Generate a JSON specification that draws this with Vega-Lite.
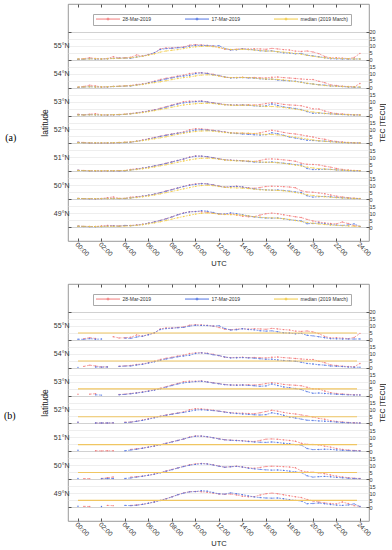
{
"$schema": "https://vega.github.io/schema/vega-lite/v6.json",
"padding": {"left": 3, "top": 3, "right": 0, "bottom": 0},
"spacing": 43,
"bounds": "flush",
"config": {
 "font": "Liberation Sans",
 "view": {"stroke": "#808080", "strokeWidth": 0.8},
 "axis": {"labelColor": "#333333", "titleColor": "#222222", "tickColor": "#555555", "titleFontWeight": "normal", "domain": false, "grid": false}
},
"datasets": {
"medb": [
{"la":55,"v":4.8,"t0":0,"t1":23.75},{"la":54,"v":4.8,"t0":0,"t1":23.75},{"la":53,"v":4.8,"t0":0,"t1":23.75},{"la":52,"v":4.8,"t0":0,"t1":23.75},{"la":51,"v":4.8,"t0":0,"t1":23.75},{"la":50,"v":4.8,"t0":0,"t1":23.75},{"la":49,"v":4.8,"t0":0,"t1":23.75}
],
"tec": [
{"la":55,"t":0,"r":0.4,"b":0.4,"m":0.5,"xr":1},{"la":55,"t":0.5,"r":0.8,"b":0.3,"m":0.5},{"la":55,"t":1,"r":1.5,"b":0.8,"m":0.6},{"la":55,"t":1.5,"r":0.9,"b":0.4,"m":0.7},{"la":55,"t":2,"r":0.6,"b":0.5,"m":0.6,"xr":1},{"la":55,"t":2.5,"r":0.9,"b":0.7,"m":0.7,"xr":1,"xb":1},{"la":55,"t":3,"r":2.2,"b":1.0,"m":0.9,"xb":1},{"la":55,"t":3.5,"r":1.3,"b":1.1,"m":1.0,"xb":1},{"la":55,"t":4,"r":1.4,"b":1.2,"m":1.2},{"la":55,"t":4.5,"r":1.8,"b":1.0,"m":1.5},{"la":55,"t":5,"r":3.5,"b":2.0,"m":1.9},{"la":55,"t":5.5,"r":2.6,"b":2.6,"m":2.5},{"la":55,"t":6,"r":3.8,"b":3.6,"m":3.3},{"la":55,"t":6.5,"r":4.8,"b":5.0,"m":4.2},{"la":55,"t":7,"r":7.8,"b":7.4,"m":5.5},{"la":55,"t":7.5,"r":8.5,"b":8.0,"m":6.3},{"la":55,"t":8,"r":8.4,"b":8.3,"m":6.8},{"la":55,"t":8.5,"r":8.9,"b":8.6,"m":7.3},{"la":55,"t":9,"r":9.2,"b":8.9,"m":8.0},{"la":55,"t":9.5,"r":10.5,"b":9.8,"m":8.8},{"la":55,"t":10,"r":10.8,"b":10.4,"m":9.3},{"la":55,"t":10.5,"r":10.6,"b":10.3,"m":9.6},{"la":55,"t":11,"r":10.3,"b":10.2,"m":9.7},{"la":55,"t":11.5,"r":9.9,"b":9.8,"m":9.4},{"la":55,"t":12,"r":8.8,"b":10.1,"m":8.8},{"la":55,"t":12.5,"r":7.6,"b":8.1,"m":8.0},{"la":55,"t":13,"r":7.2,"b":7.0,"m":7.4},{"la":55,"t":13.5,"r":7.6,"b":7.2,"m":7.3},{"la":55,"t":14,"r":8.0,"b":7.9,"m":7.5},{"la":55,"t":14.5,"r":7.6,"b":7.4,"m":7.3},{"la":55,"t":15,"r":7.9,"b":7.1,"m":7.0},{"la":55,"t":15.5,"r":7.8,"b":6.5,"m":6.6},{"la":55,"t":16,"r":7.5,"b":6.2,"m":6.3},{"la":55,"t":16.5,"r":8.2,"b":6.4,"m":6.2},{"la":55,"t":17,"r":7.8,"b":5.7,"m":5.8},{"la":55,"t":17.5,"r":7.3,"b":5.0,"m":5.5},{"la":55,"t":18,"r":7.0,"b":4.8,"m":5.0},{"la":55,"t":18.5,"r":6.2,"b":4.3,"m":4.6},{"la":55,"t":19,"r":6.0,"b":4.6,"m":4.0},{"la":55,"t":19.5,"r":6.3,"b":3.2,"m":3.2},{"la":55,"t":20,"r":5.6,"b":2.8,"m":2.5},{"la":55,"t":20.5,"r":4.4,"b":2.2,"m":1.9},{"la":55,"t":21,"r":2.4,"b":1.5,"m":1.4},{"la":55,"t":21.5,"r":1.3,"b":0.8,"m":1.1},{"la":55,"t":22,"r":1.4,"b":0.7,"m":1.0},{"la":55,"t":22.5,"r":1.2,"b":0.6,"m":0.8},{"la":55,"t":23,"r":0.8,"b":0.5,"m":0.7},{"la":55,"t":23.5,"r":1.6,"b":0.5,"m":0.6},{"la":55,"t":24,"r":4.6,"b":0.6,"m":0.6},
{"la":54,"t":0,"r":0.3,"b":0.2,"m":0.4,"xr":1},{"la":54,"t":0.5,"r":0.9,"b":0.4,"m":0.5,"xb":1},{"la":54,"t":1,"r":1.8,"b":0.7,"m":0.6,"xb":1},{"la":54,"t":1.5,"r":1.2,"b":0.5,"m":0.5},{"la":54,"t":2,"r":0.5,"b":0.4,"m":0.5},{"la":54,"t":2.5,"r":0.6,"b":0.5,"m":0.6},{"la":54,"t":3,"r":0.9,"b":0.8,"m":0.8,"xr":1,"xb":1},{"la":54,"t":3.5,"r":1.0,"b":0.9,"m":1.0},{"la":54,"t":4,"r":1.3,"b":1.1,"m":1.2},{"la":54,"t":4.5,"r":1.6,"b":1.2,"m":1.4},{"la":54,"t":5,"r":2.3,"b":1.9,"m":1.8},{"la":54,"t":5.5,"r":2.6,"b":2.4,"m":2.3},{"la":54,"t":6,"r":3.6,"b":3.3,"m":3.0},{"la":54,"t":6.5,"r":4.6,"b":4.2,"m":3.6},{"la":54,"t":7,"r":5.9,"b":5.2,"m":4.2},{"la":54,"t":7.5,"r":6.7,"b":6.2,"m":5.0},{"la":54,"t":8,"r":7.5,"b":7.0,"m":5.8},{"la":54,"t":8.5,"r":8.3,"b":7.8,"m":6.6},{"la":54,"t":9,"r":9.0,"b":8.4,"m":7.2},{"la":54,"t":9.5,"r":10.1,"b":8.9,"m":7.7},{"la":54,"t":10,"r":10.6,"b":10.2,"m":8.4},{"la":54,"t":10.5,"r":10.7,"b":10.6,"m":9.0},{"la":54,"t":11,"r":10.3,"b":10.1,"m":9.2},{"la":54,"t":11.5,"r":9.6,"b":9.2,"m":9.0},{"la":54,"t":12,"r":8.6,"b":8.7,"m":8.3},{"la":54,"t":12.5,"r":7.5,"b":7.6,"m":7.5},{"la":54,"t":13,"r":7.2,"b":7.0,"m":7.2},{"la":54,"t":13.5,"r":7.3,"b":7.1,"m":7.2},{"la":54,"t":14,"r":7.4,"b":7.2,"m":7.3},{"la":54,"t":14.5,"r":7.2,"b":7.0,"m":7.2},{"la":54,"t":15,"r":7.3,"b":6.8,"m":6.9},{"la":54,"t":15.5,"r":7.1,"b":6.4,"m":6.5},{"la":54,"t":16,"r":7.0,"b":6.0,"m":6.2},{"la":54,"t":16.5,"r":7.4,"b":6.1,"m":6.1},{"la":54,"t":17,"r":7.6,"b":5.5,"m":5.9},{"la":54,"t":17.5,"r":7.2,"b":5.1,"m":5.5},{"la":54,"t":18,"r":6.9,"b":4.9,"m":5.0},{"la":54,"t":18.5,"r":6.6,"b":4.6,"m":4.4},{"la":54,"t":19,"r":6.2,"b":3.9,"m":3.8},{"la":54,"t":19.5,"r":5.9,"b":3.0,"m":3.2},{"la":54,"t":20,"r":5.8,"b":2.6,"m":2.6},{"la":54,"t":20.5,"r":4.6,"b":2.1,"m":2.0},{"la":54,"t":21,"r":3.6,"b":1.8,"m":1.5},{"la":54,"t":21.5,"r":2.0,"b":1.2,"m":1.2},{"la":54,"t":22,"r":1.5,"b":1.0,"m":1.0},{"la":54,"t":22.5,"r":1.0,"b":0.8,"m":0.8},{"la":54,"t":23,"r":0.8,"b":0.5,"m":0.6},{"la":54,"t":23.5,"r":0.6,"b":0.3,"m":0.5},{"la":54,"t":24,"r":3.0,"b":0.3,"m":0.5},
{"la":53,"t":0,"r":0.9,"b":0.6,"m":0.4,"xb":1},{"la":53,"t":0.5,"r":0.5,"b":0.4,"m":0.4,"xr":1,"xb":1},{"la":53,"t":1,"r":1.0,"b":0.6,"m":0.5,"xb":1},{"la":53,"t":1.5,"r":1.3,"b":0.5,"m":0.5},{"la":53,"t":2,"r":0.5,"b":0.3,"m":0.4,"xr":1},{"la":53,"t":2.5,"r":0.4,"b":0.4,"m":0.5,"xr":1,"xb":1},{"la":53,"t":3,"r":0.6,"b":0.5,"m":0.6,"xr":1,"xb":1},{"la":53,"t":3.5,"r":0.7,"b":0.6,"m":0.7},{"la":53,"t":4,"r":1.0,"b":0.8,"m":0.9},{"la":53,"t":4.5,"r":1.5,"b":1.3,"m":1.2},{"la":53,"t":5,"r":2.0,"b":1.8,"m":1.6},{"la":53,"t":5.5,"r":2.6,"b":2.4,"m":2.1},{"la":53,"t":6,"r":3.3,"b":3.1,"m":2.8},{"la":53,"t":6.5,"r":4.1,"b":3.9,"m":3.5},{"la":53,"t":7,"r":5.2,"b":4.8,"m":4.3},{"la":53,"t":7.5,"r":6.4,"b":6.0,"m":5.1},{"la":53,"t":8,"r":7.6,"b":7.2,"m":6.0},{"la":53,"t":8.5,"r":8.7,"b":8.3,"m":6.8},{"la":53,"t":9,"r":10.0,"b":9.1,"m":7.6},{"la":53,"t":9.5,"r":10.3,"b":9.6,"m":8.1},{"la":53,"t":10,"r":10.2,"b":10.0,"m":8.5},{"la":53,"t":10.5,"r":10.5,"b":10.3,"m":8.7},{"la":53,"t":11,"r":9.8,"b":9.7,"m":8.8},{"la":53,"t":11.5,"r":9.2,"b":9.0,"m":8.6},{"la":53,"t":12,"r":8.6,"b":8.4,"m":8.1},{"la":53,"t":12.5,"r":7.9,"b":7.8,"m":7.7},{"la":53,"t":13,"r":7.6,"b":7.5,"m":7.4},{"la":53,"t":13.5,"r":7.5,"b":7.4,"m":7.3},{"la":53,"t":14,"r":7.6,"b":7.5,"m":7.4},{"la":53,"t":14.5,"r":7.7,"b":7.3,"m":7.4},{"la":53,"t":15,"r":7.5,"b":7.0,"m":7.2},{"la":53,"t":15.5,"r":7.9,"b":6.6,"m":6.8},{"la":53,"t":16,"r":8.6,"b":6.9,"m":6.5},{"la":53,"t":16.5,"r":9.2,"b":8.3,"m":6.5},{"la":53,"t":17,"r":8.7,"b":7.2,"m":6.2},{"la":53,"t":17.5,"r":8.0,"b":6.2,"m":5.8},{"la":53,"t":18,"r":7.6,"b":5.6,"m":5.2},{"la":53,"t":18.5,"r":7.4,"b":5.0,"m":4.6},{"la":53,"t":19,"r":7.0,"b":4.3,"m":4.0},{"la":53,"t":19.5,"r":5.9,"b":2.8,"m":3.2},{"la":53,"t":20,"r":4.8,"b":1.6,"m":2.5},{"la":53,"t":20.5,"r":4.7,"b":1.8,"m":2.0},{"la":53,"t":21,"r":3.2,"b":1.5,"m":1.5},{"la":53,"t":21.5,"r":2.1,"b":1.2,"m":1.2},{"la":53,"t":22,"r":1.4,"b":0.9,"m":1.0},{"la":53,"t":22.5,"r":1.1,"b":0.7,"m":0.8},{"la":53,"t":23,"r":0.8,"b":0.5,"m":0.6},{"la":53,"t":23.5,"r":0.6,"b":0.4,"m":0.5},{"la":53,"t":24,"r":0.5,"b":0.4,"m":0.4},
{"la":52,"t":0,"r":0.8,"b":0.8,"m":0.5},{"la":52,"t":0.5,"r":0.7,"b":0.4,"m":0.4,"xr":1,"xb":1},{"la":52,"t":1,"r":0.3,"b":0.3,"m":0.4,"xr":1,"xb":1},{"la":52,"t":1.5,"r":0.3,"b":0.3,"m":0.4},{"la":52,"t":2,"r":0.3,"b":0.3,"m":0.4},{"la":52,"t":2.5,"r":0.3,"b":0.3,"m":0.4},{"la":52,"t":3,"r":0.4,"b":0.4,"m":0.5},{"la":52,"t":3.5,"r":0.6,"b":0.5,"m":0.6,"xr":1,"xb":1},{"la":52,"t":4,"r":0.8,"b":0.6,"m":0.8},{"la":52,"t":4.5,"r":1.0,"b":0.9,"m":1.1},{"la":52,"t":5,"r":1.6,"b":1.5,"m":1.5},{"la":52,"t":5.5,"r":2.4,"b":2.2,"m":2.0},{"la":52,"t":6,"r":3.4,"b":3.1,"m":2.6},{"la":52,"t":6.5,"r":4.3,"b":4.0,"m":3.3},{"la":52,"t":7,"r":5.2,"b":5.0,"m":4.0},{"la":52,"t":7.5,"r":6.0,"b":5.8,"m":4.8},{"la":52,"t":8,"r":6.8,"b":6.6,"m":5.7},{"la":52,"t":8.5,"r":7.5,"b":7.3,"m":6.5},{"la":52,"t":9,"r":8.3,"b":7.9,"m":7.3},{"la":52,"t":9.5,"r":9.8,"b":8.7,"m":8.0},{"la":52,"t":10,"r":10.6,"b":9.6,"m":8.6},{"la":52,"t":10.5,"r":10.4,"b":9.8,"m":8.9},{"la":52,"t":11,"r":10.0,"b":9.5,"m":9.0},{"la":52,"t":11.5,"r":9.4,"b":9.2,"m":8.8},{"la":52,"t":12,"r":8.8,"b":8.8,"m":8.3},{"la":52,"t":12.5,"r":8.2,"b":8.1,"m":7.8},{"la":52,"t":13,"r":7.7,"b":7.5,"m":7.5},{"la":52,"t":13.5,"r":7.4,"b":7.1,"m":7.4},{"la":52,"t":14,"r":7.3,"b":6.8,"m":7.4},{"la":52,"t":14.5,"r":7.1,"b":6.5,"m":7.3},{"la":52,"t":15,"r":7.0,"b":6.2,"m":7.1},{"la":52,"t":15.5,"r":7.6,"b":6.0,"m":6.7},{"la":52,"t":16,"r":8.6,"b":6.3,"m":6.4},{"la":52,"t":16.5,"r":9.4,"b":7.6,"m":6.4},{"la":52,"t":17,"r":8.8,"b":6.9,"m":6.1},{"la":52,"t":17.5,"r":7.9,"b":5.8,"m":5.6},{"la":52,"t":18,"r":7.2,"b":4.6,"m":5.0},{"la":52,"t":18.5,"r":6.8,"b":3.9,"m":4.4},{"la":52,"t":19,"r":6.1,"b":3.1,"m":3.8},{"la":52,"t":19.5,"r":5.3,"b":2.3,"m":3.1},{"la":52,"t":20,"r":4.6,"b":2.1,"m":2.4},{"la":52,"t":20.5,"r":3.6,"b":1.8,"m":1.9},{"la":52,"t":21,"r":3.0,"b":1.6,"m":1.5},{"la":52,"t":21.5,"r":2.0,"b":1.3,"m":1.2},{"la":52,"t":22,"r":1.4,"b":1.0,"m":0.9},{"la":52,"t":22.5,"r":1.0,"b":0.7,"m":0.7},{"la":52,"t":23,"r":0.7,"b":0.5,"m":0.5},{"la":52,"t":23.5,"r":0.5,"b":0.4,"m":0.4},{"la":52,"t":24,"r":0.4,"b":0.3,"m":0.3},
{"la":51,"t":0,"r":0.7,"b":0.7,"m":0.6,"xr":1},{"la":51,"t":0.5,"r":0.6,"b":0.5,"m":0.5,"xr":1,"xb":1},{"la":51,"t":1,"r":0.4,"b":0.3,"m":0.4,"xr":1,"xb":1},{"la":51,"t":1.5,"r":0.4,"b":0.3,"m":0.4,"xb":1},{"la":51,"t":2,"r":0.3,"b":0.3,"m":0.4,"xb":1},{"la":51,"t":2.5,"r":0.4,"b":0.3,"m":0.4,"xb":1},{"la":51,"t":3,"r":0.4,"b":0.3,"m":0.4,"xb":1},{"la":51,"t":3.5,"r":0.4,"b":0.3,"m":0.5,"xr":1,"xb":1},{"la":51,"t":4,"r":0.5,"b":0.4,"m":0.6,"xr":1},{"la":51,"t":4.5,"r":1.4,"b":0.9,"m":0.9},{"la":51,"t":5,"r":1.8,"b":1.5,"m":1.3},{"la":51,"t":5.5,"r":2.3,"b":2.2,"m":1.8},{"la":51,"t":6,"r":3.0,"b":3.0,"m":2.4},{"la":51,"t":6.5,"r":3.8,"b":3.8,"m":3.1},{"la":51,"t":7,"r":4.8,"b":4.7,"m":3.9},{"la":51,"t":7.5,"r":5.8,"b":5.6,"m":4.7},{"la":51,"t":8,"r":6.8,"b":6.7,"m":5.6},{"la":51,"t":8.5,"r":7.8,"b":7.8,"m":6.5},{"la":51,"t":9,"r":8.8,"b":8.9,"m":7.4},{"la":51,"t":9.5,"r":10.2,"b":10.0,"m":8.2},{"la":51,"t":10,"r":11.0,"b":10.8,"m":8.9},{"la":51,"t":10.5,"r":10.9,"b":10.9,"m":9.3},{"la":51,"t":11,"r":10.4,"b":10.5,"m":9.4},{"la":51,"t":11.5,"r":9.8,"b":9.7,"m":9.2},{"la":51,"t":12,"r":9.0,"b":8.9,"m":8.7},{"la":51,"t":12.5,"r":8.3,"b":8.2,"m":8.1},{"la":51,"t":13,"r":8.0,"b":7.9,"m":7.7},{"la":51,"t":13.5,"r":7.8,"b":7.7,"m":7.5},{"la":51,"t":14,"r":7.6,"b":7.5,"m":7.5},{"la":51,"t":14.5,"r":7.2,"b":7.0,"m":7.3},{"la":51,"t":15,"r":7.0,"b":6.7,"m":7.0},{"la":51,"t":15.5,"r":7.8,"b":6.5,"m":6.7},{"la":51,"t":16,"r":8.7,"b":6.4,"m":6.5},{"la":51,"t":16.5,"r":8.9,"b":6.7,"m":6.4},{"la":51,"t":17,"r":8.6,"b":6.3,"m":6.1},{"la":51,"t":17.5,"r":8.2,"b":5.8,"m":5.7},{"la":51,"t":18,"r":7.8,"b":5.4,"m":5.1},{"la":51,"t":18.5,"r":7.2,"b":4.8,"m":4.5},{"la":51,"t":19,"r":5.8,"b":4.5,"m":3.8},{"la":51,"t":19.5,"r":5.0,"b":2.0,"m":3.0},{"la":51,"t":20,"r":4.9,"b":1.2,"m":2.4},{"la":51,"t":20.5,"r":4.6,"b":1.3,"m":1.9},{"la":51,"t":21,"r":3.7,"b":1.5,"m":1.6},{"la":51,"t":21.5,"r":3.0,"b":1.4,"m":1.3},{"la":51,"t":22,"r":2.0,"b":1.0,"m":1.0},{"la":51,"t":22.5,"r":1.4,"b":0.7,"m":0.8},{"la":51,"t":23,"r":0.9,"b":0.5,"m":0.6},{"la":51,"t":23.5,"r":0.6,"b":0.4,"m":0.5},{"la":51,"t":24,"r":0.5,"b":0.3,"m":0.4},
{"la":50,"t":0,"r":0.6,"b":0.5,"m":0.5,"xr":1},{"la":50,"t":0.5,"r":0.4,"b":0.4,"m":0.4,"xb":1},{"la":50,"t":1,"r":0.4,"b":0.3,"m":0.4,"xb":1},{"la":50,"t":1.5,"r":0.3,"b":0.3,"m":0.4,"xr":1,"xb":1},{"la":50,"t":2,"r":0.5,"b":0.4,"m":0.4},{"la":50,"t":2.5,"r":1.0,"b":0.5,"m":0.4},{"la":50,"t":3,"r":1.6,"b":0.5,"m":0.4},{"la":50,"t":3.5,"r":0.6,"b":0.4,"m":0.5,"xr":1,"xb":1},{"la":50,"t":4,"r":0.6,"b":0.5,"m":0.6,"xr":1},{"la":50,"t":4.5,"r":1.5,"b":0.9,"m":0.9},{"la":50,"t":5,"r":1.8,"b":1.5,"m":1.2},{"la":50,"t":5.5,"r":2.2,"b":2.1,"m":1.7},{"la":50,"t":6,"r":2.8,"b":2.8,"m":2.3},{"la":50,"t":6.5,"r":3.6,"b":3.6,"m":3.0},{"la":50,"t":7,"r":4.7,"b":4.6,"m":3.8},{"la":50,"t":7.5,"r":5.9,"b":5.7,"m":4.7},{"la":50,"t":8,"r":7.0,"b":6.8,"m":5.6},{"la":50,"t":8.5,"r":8.1,"b":8.0,"m":6.5},{"la":50,"t":9,"r":9.2,"b":9.1,"m":7.4},{"la":50,"t":9.5,"r":10.3,"b":10.0,"m":8.3},{"la":50,"t":10,"r":11.0,"b":10.6,"m":9.2},{"la":50,"t":10.5,"r":11.3,"b":11.1,"m":9.8},{"la":50,"t":11,"r":11.0,"b":10.9,"m":10.0},{"la":50,"t":11.5,"r":10.3,"b":10.2,"m":9.7},{"la":50,"t":12,"r":9.4,"b":9.3,"m":9.1},{"la":50,"t":12.5,"r":8.6,"b":8.6,"m":8.5},{"la":50,"t":13,"r":9.0,"b":8.9,"m":8.2},{"la":50,"t":13.5,"r":9.3,"b":9.2,"m":8.1},{"la":50,"t":14,"r":8.7,"b":8.7,"m":7.9},{"la":50,"t":14.5,"r":8.2,"b":7.9,"m":7.6},{"la":50,"t":15,"r":7.8,"b":7.4,"m":7.2},{"la":50,"t":15.5,"r":8.4,"b":7.0,"m":6.8},{"la":50,"t":16,"r":9.1,"b":6.7,"m":6.6},{"la":50,"t":16.5,"r":9.3,"b":6.5,"m":6.5},{"la":50,"t":17,"r":9.2,"b":6.6,"m":6.3},{"la":50,"t":17.5,"r":9.0,"b":6.3,"m":6.0},{"la":50,"t":18,"r":8.7,"b":5.8,"m":5.5},{"la":50,"t":18.5,"r":8.2,"b":5.2,"m":4.8},{"la":50,"t":19,"r":6.0,"b":4.8,"m":4.0},{"la":50,"t":19.5,"r":5.2,"b":2.4,"m":3.2},{"la":50,"t":20,"r":5.0,"b":1.5,"m":2.6},{"la":50,"t":20.5,"r":4.5,"b":1.8,"m":2.1},{"la":50,"t":21,"r":3.9,"b":2.0,"m":1.7},{"la":50,"t":21.5,"r":3.0,"b":1.7,"m":1.4},{"la":50,"t":22,"r":2.2,"b":1.3,"m":1.1},{"la":50,"t":22.5,"r":1.6,"b":1.0,"m":0.9},{"la":50,"t":23,"r":1.1,"b":0.7,"m":0.7},{"la":50,"t":23.5,"r":0.7,"b":0.5,"m":0.5},{"la":50,"t":24,"r":0.5,"b":0.4,"m":0.4},
{"la":49,"t":0,"r":0.7,"b":0.6,"m":0.6,"xr":1},{"la":49,"t":0.5,"r":0.5,"b":0.4,"m":0.5,"xb":1},{"la":49,"t":1,"r":0.4,"b":0.3,"m":0.4,"xb":1},{"la":49,"t":1.5,"r":0.4,"b":0.3,"m":0.4,"xr":1,"xb":1},{"la":49,"t":2,"r":0.8,"b":0.4,"m":0.4,"xr":1},{"la":49,"t":2.5,"r":1.2,"b":0.6,"m":0.5,"xb":1},{"la":49,"t":3,"r":1.0,"b":0.8,"m":0.5,"xb":1},{"la":49,"t":3.5,"r":0.8,"b":0.6,"m":0.6,"xr":1,"xb":1},{"la":49,"t":4,"r":1.0,"b":1.2,"m":0.7,"xr":1},{"la":49,"t":4.5,"r":1.2,"b":1.0,"m":0.9},{"la":49,"t":5,"r":1.5,"b":1.3,"m":1.2},{"la":49,"t":5.5,"r":2.0,"b":1.9,"m":1.7},{"la":49,"t":6,"r":2.8,"b":2.7,"m":2.3},{"la":49,"t":6.5,"r":3.7,"b":3.6,"m":3.0},{"la":49,"t":7,"r":4.8,"b":4.7,"m":3.8},{"la":49,"t":7.5,"r":6.0,"b":5.9,"m":4.7},{"la":49,"t":8,"r":7.4,"b":7.3,"m":5.7},{"la":49,"t":8.5,"r":8.9,"b":8.8,"m":6.7},{"la":49,"t":9,"r":10.2,"b":10.0,"m":7.6},{"la":49,"t":9.5,"r":11.0,"b":10.9,"m":8.5},{"la":49,"t":10,"r":11.2,"b":11.1,"m":9.3},{"la":49,"t":10.5,"r":11.0,"b":11.7,"m":9.9},{"la":49,"t":11,"r":10.6,"b":11.4,"m":10.1},{"la":49,"t":11.5,"r":10.0,"b":10.4,"m":9.8},{"la":49,"t":12,"r":9.4,"b":9.5,"m":9.3},{"la":49,"t":12.5,"r":9.2,"b":9.3,"m":9.0},{"la":49,"t":13,"r":9.4,"b":10.2,"m":8.9},{"la":49,"t":13.5,"r":8.7,"b":9.6,"m":8.8},{"la":49,"t":14,"r":7.8,"b":8.9,"m":8.5},{"la":49,"t":14.5,"r":7.4,"b":8.0,"m":8.0},{"la":49,"t":15,"r":7.5,"b":7.3,"m":7.4},{"la":49,"t":15.5,"r":8.6,"b":6.8,"m":7.0},{"la":49,"t":16,"r":9.6,"b":6.5,"m":6.7},{"la":49,"t":16.5,"r":10.0,"b":6.4,"m":6.6},{"la":49,"t":17,"r":9.6,"b":6.5,"m":6.4},{"la":49,"t":17.5,"r":8.8,"b":6.0,"m":6.0},{"la":49,"t":18,"r":8.1,"b":5.3,"m":5.4},{"la":49,"t":18.5,"r":7.4,"b":4.8,"m":4.7},{"la":49,"t":19,"r":6.8,"b":4.4,"m":4.0},{"la":49,"t":19.5,"r":5.5,"b":2.4,"m":3.3},{"la":49,"t":20,"r":4.4,"b":2.6,"m":2.7},{"la":49,"t":20.5,"r":3.6,"b":2.9,"m":2.2},{"la":49,"t":21,"r":3.0,"b":2.4,"m":1.8},{"la":49,"t":21.5,"r":2.5,"b":1.8,"m":1.5},{"la":49,"t":22,"r":2.3,"b":1.4,"m":1.2},{"la":49,"t":22.5,"r":3.6,"b":1.2,"m":1.0},{"la":49,"t":23,"r":2.5,"b":1.5,"m":0.8},{"la":49,"t":23.5,"r":1.0,"b":2.3,"m":0.6},{"la":49,"t":24,"r":0.5,"b":0.4,"m":0.5}
]
},
"resolve": {"legend": {"color": "independent"}},
"vconcat": [
{
 "width": 301, "height": 237,
 "title": {"text": "(a)", "orient": "left", "angle": 0, "offset": 13, "dy": 15, "font": "Liberation Serif", "fontSize": 10, "fontWeight": "normal", "align": "right", "baseline": "middle", "anchor": "middle", "color": "#000000"},
 "resolve": {"axis": {"x": "independent", "y": "independent"}},
 "layer": [
  {
   "data": {"name": "tec"},
   "transform": [{"fold": ["r", "b"], "as": ["key", "tec"]}, {"calculate": "datum.la - 0.5 + datum.tec / 20", "as": "y"}],
   "mark": {"type": "line", "strokeWidth": 0.7, "strokeDash": [2, 1.2], "point": {"filled": true, "size": 2}},
   "encoding": {
    "x": {"field": "t", "type": "quantitative", "scale": {"domain": [-0.85, 24.77], "nice": false, "zero": false},
          "axis": {"orient": "bottom", "values": [0,2,4,6,8,10,12,14,16,18,20,22,24], "labelExpr": "(datum.value < 10 ? '0' : '') + datum.value + ':00'", "labelAngle": 45, "labelFontSize": 6.5, "labelPadding": 3, "tickSize": -3, "labelOverlap": false, "labelFlush": false, "title": "UTC", "titleFontSize": 7.5, "titlePadding": 2}},
    "y": {"field": "y", "type": "quantitative", "scale": {"domain": [48, 56.5], "nice": false, "zero": false},
          "axis": {"orient": "left", "values": [48.5,48.75,49,49.25,49.5,49.75,50,50.25,50.5,50.75,51,51.25,51.5,51.75,52,52.25,52.5,52.75,53,53.25,53.5,53.75,54,54.25,54.5,54.75,55,55.25,55.5], "grid": true, "gridColor": {"condition": {"test": "datum.value % 1 == 0.5", "value": "#bdbdbd"}, "value": "#e6e6e6"}, "gridWidth": 0.7, "tickSize": -3, "tickOpacity": {"condition": {"test": "datum.value % 1 == 0.5", "value": 1}, "value": 0}, "labelExpr": "datum.value % 1 == 0 ? datum.value + '°N' : ''", "labelFontSize": 7, "labelPadding": 2, "labelOverlap": false, "title": "latitude", "titleFontSize": 8.5, "titlePadding": 4}},
    "color": {"field": "key", "type": "nominal", "scale": {"domain": ["r", "b", "m"], "range": ["#f27c7c", "#5276e4", "#f2cb44"]},
          "legend": {"orient": "none", "legendX": 25, "legendY": 10, "direction": "horizontal", "columns": 3, "title": null, "symbolType": "M-1,0H11M5,-0.7V0.7M4.3,0H5.7", "symbolSize": 16, "symbolStrokeWidth": 1, "labelFontSize": 5, "labelOffset": 22, "labelColor": "#333333", "columnPadding": 31, "padding": 2.5, "strokeColor": "#aaaaaa", "fillColor": "#ffffff", "labelExpr": "datum.label == 'r' ? '28-Mar-2019' : datum.label == 'b' ? '17-Mar-2019' : 'median (2019 March)'"}},
    "detail": {"field": "la"}
   }
  },
  {
   "data": {"name": "tec"},
   "transform": [{"fold": ["m"], "as": ["key", "tec"]}, {"calculate": "datum.la - 0.5 + datum.tec / 20", "as": "y"}],
   "mark": {"type": "line", "strokeWidth": 0.7, "strokeDash": [2, 1.2], "point": {"filled": true, "size": 2}},
   "encoding": {
    "x": {"field": "t", "type": "quantitative", "axis": {"orient": "top", "values": [0,2,4,6,8,10,12,14,16,18,20,22,24], "labels": false, "tickSize": -3, "title": null}},
    "y": {"field": "y", "type": "quantitative", "axis": {"orient": "right", "values": [48.5,48.75,49,49.25,49.5,49.75,50,50.25,50.5,50.75,51,51.25,51.5,51.75,52,52.25,52.5,52.75,53,53.25,53.5,53.75,54,54.25,54.5,54.75,55,55.25,55.5], "tickSize": -3, "tickOpacity": {"condition": {"test": "datum.value % 1 == 0.5", "value": 1}, "value": 0}, "labelExpr": "datum.value == 55.5 ? '20' : '' + (((datum.value - 48.5) % 1) * 20)", "labelFontSize": 5.5, "labelPadding": 3, "labelOverlap": false, "title": "TEC [TECU]", "titleFontSize": 7, "titleAngle": 270, "titleBaseline": "top", "titlePadding": 3}},
    "color": {"field": "key", "type": "nominal", "legend": null},
    "detail": {"field": "la"}
   }
  }
 ]
},
{
 "width": 301, "height": 237,
 "title": {"text": "(b)", "orient": "left", "angle": 0, "offset": 13, "dy": 13, "font": "Liberation Serif", "fontSize": 10, "fontWeight": "normal", "align": "right", "baseline": "middle", "anchor": "middle", "color": "#000000"},
 "resolve": {"axis": {"x": "independent", "y": "independent"}},
 "layer": [
  {
   "data": {"name": "tec"},
   "transform": [{"fold": ["r", "b"], "as": ["key", "tec"]}, {"calculate": "(datum.key == 'r' && datum.xr) || (datum.key == 'b' && datum.xb) ? null : datum.la - 0.5 + datum.tec / 20", "as": "y"}],
   "mark": {"type": "line", "strokeWidth": 0.7, "strokeDash": [2, 1.2], "point": {"filled": true, "size": 2}, "invalid": "break-paths-show-domains"},
   "encoding": {
    "x": {"field": "t", "type": "quantitative", "scale": {"domain": [-0.85, 24.77], "nice": false, "zero": false},
          "axis": {"orient": "bottom", "values": [0,2,4,6,8,10,12,14,16,18,20,22,24], "labelExpr": "(datum.value < 10 ? '0' : '') + datum.value + ':00'", "labelAngle": 45, "labelFontSize": 6.5, "labelPadding": 3, "tickSize": -3, "labelOverlap": false, "labelFlush": false, "title": "UTC", "titleFontSize": 7.5, "titlePadding": 2}},
    "y": {"field": "y", "type": "quantitative", "scale": {"domain": [48, 56.5], "nice": false, "zero": false},
          "axis": {"orient": "left", "values": [48.5,48.75,49,49.25,49.5,49.75,50,50.25,50.5,50.75,51,51.25,51.5,51.75,52,52.25,52.5,52.75,53,53.25,53.5,53.75,54,54.25,54.5,54.75,55,55.25,55.5], "grid": true, "gridColor": {"condition": {"test": "datum.value % 1 == 0.5", "value": "#bdbdbd"}, "value": "#e6e6e6"}, "gridWidth": 0.7, "tickSize": -3, "tickOpacity": {"condition": {"test": "datum.value % 1 == 0.5", "value": 1}, "value": 0}, "labelExpr": "datum.value % 1 == 0 ? datum.value + '°N' : ''", "labelFontSize": 7, "labelPadding": 2, "labelOverlap": false, "title": "latitude", "titleFontSize": 8.5, "titlePadding": 4}},
    "color": {"field": "key", "type": "nominal", "scale": {"domain": ["r", "b", "m"], "range": ["#f27c7c", "#5276e4", "#f0c662"]},
          "legend": {"orient": "none", "legendX": 25, "legendY": 10, "direction": "horizontal", "columns": 3, "title": null, "symbolType": "M-1,0H11M5,-0.7V0.7M4.3,0H5.7", "symbolSize": 16, "symbolStrokeWidth": 1, "labelFontSize": 5, "labelOffset": 22, "labelColor": "#333333", "columnPadding": 31, "padding": 2.5, "strokeColor": "#aaaaaa", "fillColor": "#ffffff", "labelExpr": "datum.label == 'r' ? '28-Mar-2019' : datum.label == 'b' ? '17-Mar-2019' : 'median (2019 March)'"}},
    "detail": {"field": "la"}
   }
  },
  {
   "data": {"name": "medb"},
   "transform": [{"calculate": "datum.la - 0.5 + datum.v / 20", "as": "y"}],
   "mark": {"type": "rule", "color": "#f0c662", "strokeWidth": 1.1},
   "encoding": {
    "x": {"field": "t0", "type": "quantitative", "axis": {"orient": "top", "values": [0,2,4,6,8,10,12,14,16,18,20,22,24], "labels": false, "tickSize": -3, "title": null}},
    "x2": {"field": "t1"},
    "y": {"field": "y", "type": "quantitative", "axis": {"orient": "right", "values": [48.5,48.75,49,49.25,49.5,49.75,50,50.25,50.5,50.75,51,51.25,51.5,51.75,52,52.25,52.5,52.75,53,53.25,53.5,53.75,54,54.25,54.5,54.75,55,55.25,55.5], "tickSize": -3, "tickOpacity": {"condition": {"test": "datum.value % 1 == 0.5", "value": 1}, "value": 0}, "labelExpr": "datum.value == 55.5 ? '20' : '' + (((datum.value - 48.5) % 1) * 20)", "labelFontSize": 5.5, "labelPadding": 3, "labelOverlap": false, "title": "TEC [TECU]", "titleFontSize": 7, "titleAngle": 270, "titleBaseline": "top", "titlePadding": 3}}
   }
  }
 ]
}
]
}
